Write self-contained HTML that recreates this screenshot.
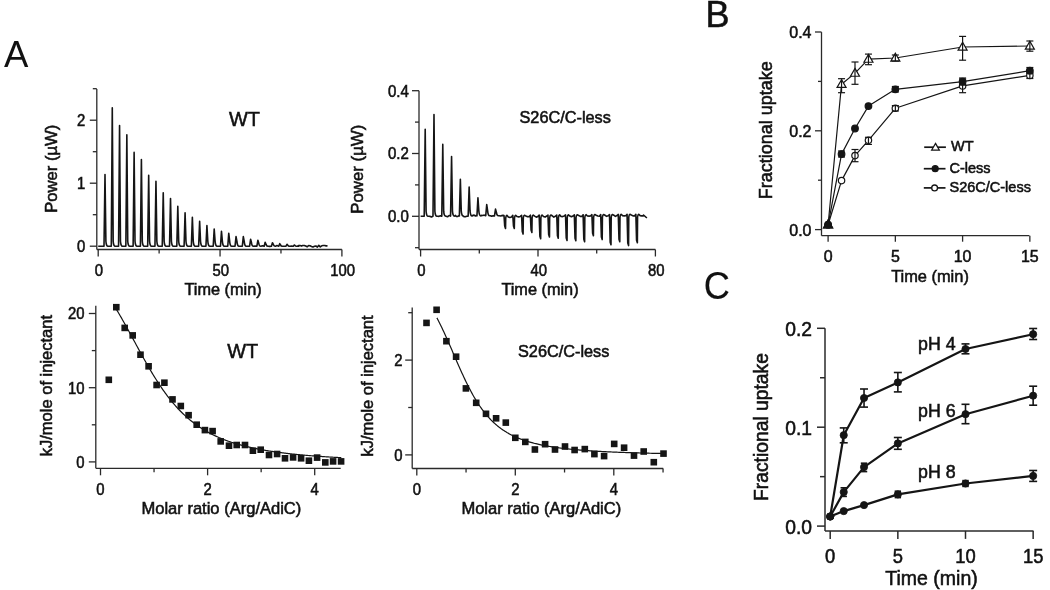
<!DOCTYPE html>
<html><head><meta charset="utf-8"><style>
html,body{margin:0;padding:0;background:#fff;}
svg{display:block;filter:blur(0.35px);}
text{font-family:"Liberation Sans", sans-serif;stroke:#111;stroke-width:0.55px;}
</style></head><body>
<svg width="1050" height="590" viewBox="0 0 1050 590">
<rect width="1050" height="590" fill="#fff"/>
<line x1="96.80" y1="89.00" x2="96.80" y2="249.50" stroke="#2a2a2a" stroke-width="1.3"/>
<line x1="89.80" y1="246.20" x2="96.80" y2="246.20" stroke="#2a2a2a" stroke-width="1.3"/>
<line x1="92.80" y1="214.70" x2="96.80" y2="214.70" stroke="#2a2a2a" stroke-width="1.3"/>
<line x1="89.80" y1="183.20" x2="96.80" y2="183.20" stroke="#2a2a2a" stroke-width="1.3"/>
<line x1="92.80" y1="151.70" x2="96.80" y2="151.70" stroke="#2a2a2a" stroke-width="1.3"/>
<line x1="89.80" y1="120.20" x2="96.80" y2="120.20" stroke="#2a2a2a" stroke-width="1.3"/>
<line x1="92.80" y1="88.70" x2="96.80" y2="88.70" stroke="#2a2a2a" stroke-width="1.3"/>
<line x1="96.80" y1="249.50" x2="341.90" y2="249.50" stroke="#2a2a2a" stroke-width="1.3"/>
<line x1="98.20" y1="249.50" x2="98.20" y2="256.50" stroke="#2a2a2a" stroke-width="1.3"/>
<line x1="159.12" y1="249.50" x2="159.12" y2="253.50" stroke="#2a2a2a" stroke-width="1.3"/>
<line x1="220.05" y1="249.50" x2="220.05" y2="256.50" stroke="#2a2a2a" stroke-width="1.3"/>
<line x1="280.97" y1="249.50" x2="280.97" y2="253.50" stroke="#2a2a2a" stroke-width="1.3"/>
<line x1="341.90" y1="249.50" x2="341.90" y2="256.50" stroke="#2a2a2a" stroke-width="1.3"/>
<text x="0" y="0" font-size="16" text-anchor="end" transform="translate(85.30 252.00) scale(0.93 1)" fill="#111">0</text>
<text x="0" y="0" font-size="16" text-anchor="end" transform="translate(85.30 189.00) scale(0.93 1)" fill="#111">1</text>
<text x="0" y="0" font-size="16" text-anchor="end" transform="translate(85.30 126.00) scale(0.93 1)" fill="#111">2</text>
<text x="0" y="0" font-size="16" text-anchor="middle" transform="translate(99.00 276.40) scale(0.93 1)" fill="#111">0</text>
<text x="0" y="0" font-size="16" text-anchor="middle" transform="translate(220.85 276.40) scale(0.93 1)" fill="#111">50</text>
<text x="0" y="0" font-size="16" text-anchor="middle" transform="translate(342.70 276.40) scale(0.93 1)" fill="#111">100</text>
<text x="223.10" y="294.50" font-size="16.3" text-anchor="middle" fill="#111">Time (min)</text>
<text x="0" y="0" font-size="16.6" text-anchor="middle" transform="translate(56.90 168.80) rotate(-90)" fill="#111">Power (µW)</text>
<text x="0" y="0" font-size="21" text-anchor="start" transform="translate(229.00 125.70) scale(0.95 1)" fill="#111">WT</text>
<path d="M98.2 246.2 L104.00 246.20 L105.00 174.60 L105.90 241.20 Q106.30 246.50 108.10 246.20 L111.28 246.20 L112.28 107.70 L113.18 241.20 Q113.58 246.50 115.38 246.20 L118.56 246.20 L119.56 125.60 L120.46 241.20 Q120.86 246.50 122.66 246.20 L125.84 246.20 L126.84 134.80 L127.74 241.20 Q128.14 246.50 129.94 246.20 L133.12 246.20 L134.12 152.40 L135.02 241.20 Q135.42 246.50 137.22 246.20 L140.40 246.20 L141.40 159.60 L142.30 241.20 Q142.70 246.50 144.50 246.20 L147.68 246.20 L148.68 175.20 L149.58 241.20 Q149.98 246.50 151.78 246.20 L154.96 246.20 L155.96 181.30 L156.86 241.20 Q157.26 246.50 159.06 246.20 L162.24 246.20 L163.24 192.80 L164.14 241.20 Q164.54 246.50 166.34 246.20 L169.52 246.20 L170.52 198.60 L171.42 241.20 Q171.82 246.50 173.62 246.20 L176.80 246.20 L177.80 206.40 L178.70 241.20 Q179.10 246.50 180.90 246.20 L184.08 246.20 L185.08 212.70 L185.98 241.20 Q186.38 246.50 188.18 246.20 L191.36 246.20 L192.36 217.30 L193.26 241.20 Q193.66 246.50 195.46 246.20 L198.64 246.20 L199.64 221.40 L200.54 241.20 Q200.94 246.50 202.74 246.20 L205.92 246.20 L206.92 225.60 L207.82 241.20 Q208.22 246.50 210.02 246.20 L213.20 246.20 L214.20 229.00 L215.10 241.20 Q215.50 246.50 217.30 246.20 L220.48 246.20 L221.48 231.40 L222.38 241.20 Q222.78 246.50 224.58 246.20 L227.76 246.20 L228.76 233.40 L229.66 241.20 Q230.06 246.50 231.86 246.20 L235.04 246.20 L236.04 236.60 L236.94 241.40 Q237.34 246.50 239.14 246.20 L242.32 246.20 L243.32 236.60 L244.22 241.40 Q244.62 246.50 246.42 246.20 L249.60 246.20 L250.60 239.30 L251.50 242.75 Q251.90 246.50 253.70 246.20 L255.10 245.95 L256.88 246.20 L257.88 240.30 L258.78 243.25 Q259.18 246.50 260.98 246.20 L262.38 245.71 L264.16 246.20 L265.16 242.30 L266.06 244.25 Q266.46 246.50 268.26 246.20 L269.66 246.41 L271.44 246.20 L272.44 242.70 L273.34 244.45 Q273.74 246.50 275.54 246.20 L276.94 245.60 L278.72 246.20 L279.72 243.70 L280.62 244.95 Q281.02 246.50 282.82 246.20 L284.22 246.25 L286.00 246.20 L287.00 244.30 L287.90 245.25 Q288.30 246.50 290.10 246.20 L291.50 246.01 L293.28 246.20 L294.28 245.00 L295.18 245.60 Q295.58 246.50 297.38 246.20 L298.78 245.58 L298.46 246.21 L299.91 245.37 L301.36 246.08 L302.81 245.43 L304.26 245.46 L305.74 246.06 L307.19 246.79 L308.64 245.52 L310.09 245.70 L311.54 246.43 L313.02 247.01 L314.47 246.34 L315.92 246.01 L317.37 247.06 L318.82 245.38 L320.30 246.85 L321.75 245.82 L323.20 245.56 L324.65 245.51 L326.10 245.86 L327.5 245.89999999999998" fill="none" stroke="#151515" stroke-width="1.6" stroke-linejoin="round"/>
<line x1="419.00" y1="90.70" x2="419.00" y2="249.50" stroke="#2a2a2a" stroke-width="1.3"/>
<line x1="415.00" y1="247.70" x2="419.00" y2="247.70" stroke="#2a2a2a" stroke-width="1.3"/>
<line x1="412.00" y1="216.30" x2="419.00" y2="216.30" stroke="#2a2a2a" stroke-width="1.3"/>
<line x1="415.00" y1="184.90" x2="419.00" y2="184.90" stroke="#2a2a2a" stroke-width="1.3"/>
<line x1="412.00" y1="153.50" x2="419.00" y2="153.50" stroke="#2a2a2a" stroke-width="1.3"/>
<line x1="415.00" y1="122.10" x2="419.00" y2="122.10" stroke="#2a2a2a" stroke-width="1.3"/>
<line x1="412.00" y1="90.70" x2="419.00" y2="90.70" stroke="#2a2a2a" stroke-width="1.3"/>
<line x1="419.00" y1="249.50" x2="655.40" y2="249.50" stroke="#2a2a2a" stroke-width="1.3"/>
<line x1="420.60" y1="249.50" x2="420.60" y2="256.50" stroke="#2a2a2a" stroke-width="1.3"/>
<line x1="479.30" y1="249.50" x2="479.30" y2="253.50" stroke="#2a2a2a" stroke-width="1.3"/>
<line x1="538.00" y1="249.50" x2="538.00" y2="256.50" stroke="#2a2a2a" stroke-width="1.3"/>
<line x1="596.70" y1="249.50" x2="596.70" y2="253.50" stroke="#2a2a2a" stroke-width="1.3"/>
<line x1="655.40" y1="249.50" x2="655.40" y2="256.50" stroke="#2a2a2a" stroke-width="1.3"/>
<text x="0" y="0" font-size="16" text-anchor="end" transform="translate(408.80 222.10) scale(0.94 1)" fill="#111">0.0</text>
<text x="0" y="0" font-size="16" text-anchor="end" transform="translate(408.80 159.30) scale(0.94 1)" fill="#111">0.2</text>
<text x="0" y="0" font-size="16" text-anchor="end" transform="translate(408.80 96.50) scale(0.94 1)" fill="#111">0.4</text>
<text x="0" y="0" font-size="16" text-anchor="middle" transform="translate(421.40 276.40) scale(0.93 1)" fill="#111">0</text>
<text x="0" y="0" font-size="16" text-anchor="middle" transform="translate(538.80 276.40) scale(0.93 1)" fill="#111">40</text>
<text x="0" y="0" font-size="16" text-anchor="middle" transform="translate(656.20 276.40) scale(0.93 1)" fill="#111">80</text>
<text x="540.00" y="294.80" font-size="16.3" text-anchor="middle" fill="#111">Time (min)</text>
<text x="0" y="0" font-size="16.8" text-anchor="middle" transform="translate(363.30 169.20) rotate(-90)" fill="#111">Power (µW)</text>
<text x="519.50" y="122.80" font-size="16.3" text-anchor="start" fill="#111">S26C/C-less</text>
<path d="M420.6 216.3 L424.20 216.30 L425.20 129.20 L426.10 211.30 Q426.50 216.60 428.30 216.30 L428.90 216.22 L430.20 216.40 L431.50 216.98 L432.80 216.25 L432.99 216.23 L433.99 114.50 L434.89 211.23 Q435.29 216.53 437.09 216.23 L437.69 216.24 L438.99 216.36 L440.29 215.72 L441.59 216.24 L441.78 216.15 L442.78 144.40 L443.68 211.15 Q444.08 216.45 445.88 216.15 L446.48 216.36 L447.78 216.62 L449.08 215.50 L450.38 215.84 L450.57 216.08 L451.57 156.60 L452.47 211.08 Q452.87 216.38 454.67 216.08 L455.27 215.42 L456.57 216.57 L457.87 216.38 L459.17 215.34 L459.36 216.00 L460.36 179.20 L461.26 211.00 Q461.66 216.30 463.46 216.00 L464.06 216.77 L465.36 216.74 L466.66 216.25 L467.96 216.18 L468.15 215.93 L469.15 187.10 L470.05 210.93 Q470.45 216.23 472.25 215.93 L472.85 215.38 L474.15 215.15 L475.45 215.97 L476.75 215.22 L476.94 215.85 L477.94 197.80 L478.84 210.85 Q479.24 216.15 481.04 215.85 L481.64 215.35 L482.94 215.44 L484.24 215.10 L485.54 215.79 L485.73 215.78 L486.73 204.50 L487.63 210.78 Q488.03 216.08 489.83 215.78 L490.43 215.68 L491.73 216.32 L493.03 215.81 L494.33 216.00 L494.52 215.70 L495.52 209.10 L496.42 212.40 Q496.82 216.00 498.62 215.70 L499.22 215.70 L500.52 215.96 L501.82 215.63 L503.12 215.35 L504.01 215.43 L504.71 226.00 L505.51 228.50 L505.71 218.12 Q506.01 215.62 506.91 215.32 L508.31 216.92 L509.91 217.52 L511.51 217.00 L512.80 215.35 L513.50 226.00 L514.30 228.50 L514.50 218.05 Q514.80 215.55 515.70 215.25 L517.10 216.56 L518.70 216.90 L520.30 216.43 L521.59 215.28 L522.29 231.60 L523.09 234.10 L523.29 217.98 Q523.59 215.48 524.49 215.18 L525.89 216.06 L527.49 216.63 L529.09 216.79 L530.38 215.20 L531.08 229.90 L531.88 232.40 L532.08 217.90 Q532.38 215.40 533.28 215.10 L534.68 216.10 L536.28 217.18 L537.88 216.41 L539.17 215.13 L539.87 236.30 L540.67 238.80 L540.87 217.83 Q541.17 215.33 542.07 215.03 L543.47 216.58 L545.07 217.10 L546.67 216.03 L547.96 215.05 L548.66 234.50 L549.46 237.00 L549.66 217.75 Q549.96 215.25 550.86 214.95 L552.26 215.76 L553.86 217.08 L555.46 216.33 L556.75 214.98 L557.45 235.70 L558.25 238.20 L558.45 217.68 Q558.75 215.18 559.65 214.88 L561.05 216.46 L562.65 216.59 L564.25 215.93 L565.54 214.90 L566.24 238.00 L567.04 240.50 L567.24 217.60 Q567.54 215.10 568.44 214.80 L569.84 216.03 L571.44 216.82 L573.04 216.02 L574.33 214.83 L575.03 238.30 L575.83 240.80 L576.03 217.53 Q576.33 215.03 577.23 214.72 L578.63 215.41 L580.23 216.39 L581.83 216.50 L583.12 214.75 L583.82 239.20 L584.62 241.70 L584.82 217.45 Q585.12 214.95 586.02 214.65 L587.42 216.01 L589.02 216.14 L590.62 215.85 L591.91 214.68 L592.61 233.30 L593.41 235.80 L593.61 217.38 Q593.91 214.88 594.81 214.57 L596.21 215.28 L597.81 216.02 L599.41 216.21 L600.70 214.60 L601.40 237.10 L602.20 239.60 L602.40 217.30 Q602.70 214.80 603.60 214.50 L605.00 215.28 L606.60 216.35 L608.20 215.86 L609.49 214.53 L610.19 242.30 L610.99 244.80 L611.19 217.23 Q611.49 214.73 612.39 214.43 L613.79 215.22 L615.39 216.41 L616.99 215.53 L618.28 214.45 L618.98 239.20 L619.78 241.70 L619.98 217.15 Q620.28 214.65 621.18 214.35 L622.58 215.59 L624.18 215.84 L625.78 215.69 L627.07 214.38 L627.77 243.10 L628.57 245.60 L628.77 217.08 Q629.07 214.58 629.97 214.28 L631.37 215.09 L632.97 215.89 L634.57 216.05 L635.86 214.30 L636.56 240.20 L637.36 242.70 L637.56 217.00 Q637.86 214.50 638.76 214.20 L640.16 215.60 L641.76 215.84 L643.36 215.91 L643.5 215.0 L646.9 218.0" fill="none" stroke="#151515" stroke-width="1.6" stroke-linejoin="round"/>
<line x1="95.80" y1="305.80" x2="95.80" y2="468.30" stroke="#2a2a2a" stroke-width="1.3"/>
<line x1="88.80" y1="461.90" x2="95.80" y2="461.90" stroke="#2a2a2a" stroke-width="1.3"/>
<line x1="91.80" y1="424.80" x2="95.80" y2="424.80" stroke="#2a2a2a" stroke-width="1.3"/>
<line x1="88.80" y1="387.70" x2="95.80" y2="387.70" stroke="#2a2a2a" stroke-width="1.3"/>
<line x1="91.80" y1="350.60" x2="95.80" y2="350.60" stroke="#2a2a2a" stroke-width="1.3"/>
<line x1="88.80" y1="313.50" x2="95.80" y2="313.50" stroke="#2a2a2a" stroke-width="1.3"/>
<line x1="95.80" y1="468.30" x2="340.70" y2="468.30" stroke="#2a2a2a" stroke-width="1.3"/>
<line x1="100.50" y1="468.30" x2="100.50" y2="475.30" stroke="#2a2a2a" stroke-width="1.3"/>
<line x1="154.05" y1="468.30" x2="154.05" y2="472.30" stroke="#2a2a2a" stroke-width="1.3"/>
<line x1="207.60" y1="468.30" x2="207.60" y2="475.30" stroke="#2a2a2a" stroke-width="1.3"/>
<line x1="261.15" y1="468.30" x2="261.15" y2="472.30" stroke="#2a2a2a" stroke-width="1.3"/>
<line x1="314.70" y1="468.30" x2="314.70" y2="475.30" stroke="#2a2a2a" stroke-width="1.3"/>
<text x="0" y="0" font-size="16" text-anchor="end" transform="translate(84.50 467.70) scale(0.93 1)" fill="#111">0</text>
<text x="0" y="0" font-size="16" text-anchor="end" transform="translate(84.50 393.50) scale(0.93 1)" fill="#111">10</text>
<text x="0" y="0" font-size="16" text-anchor="end" transform="translate(84.50 319.30) scale(0.93 1)" fill="#111">20</text>
<text x="0" y="0" font-size="16" text-anchor="middle" transform="translate(100.50 495.20) scale(0.93 1)" fill="#111">0</text>
<text x="0" y="0" font-size="16" text-anchor="middle" transform="translate(207.60 495.20) scale(0.93 1)" fill="#111">2</text>
<text x="0" y="0" font-size="16" text-anchor="middle" transform="translate(314.70 495.20) scale(0.93 1)" fill="#111">4</text>
<text x="221.40" y="513.60" font-size="16.55" text-anchor="middle" fill="#111">Molar ratio (Arg/AdiC)</text>
<text x="0" y="0" font-size="16.5" text-anchor="middle" transform="translate(52.40 385.60) rotate(-90)" fill="#111">kJ/mole of injectant</text>
<text x="0" y="0" font-size="21" text-anchor="start" transform="translate(227.30 357.70) scale(0.95 1)" fill="#111">WT</text>
<path d="M116.30 309.15 L117.30 310.82 L118.30 312.51 L119.30 314.21 L120.30 315.94 L121.30 317.67 L122.30 319.43 L123.30 321.19 L124.30 322.97 L125.30 324.76 L126.30 326.57 L127.30 328.38 L128.30 330.20 L129.30 332.03 L130.30 333.86 L131.30 335.70 L132.30 337.54 L133.30 339.39 L134.30 341.24 L135.30 343.08 L136.30 344.93 L137.30 346.77 L138.30 348.61 L139.30 350.45 L140.30 352.27 L141.30 354.09 L142.30 355.91 L143.30 357.71 L144.30 359.50 L145.30 361.28 L146.30 363.05 L147.30 364.80 L148.30 366.54 L149.30 368.26 L150.30 369.96 L151.30 371.65 L152.30 373.32 L153.30 374.97 L154.30 376.60 L155.30 378.21 L156.30 379.80 L157.30 381.36 L158.30 382.91 L159.30 384.43 L160.30 385.93 L161.30 387.41 L162.30 388.87 L163.30 390.30 L164.30 391.70 L165.30 393.09 L166.30 394.45 L167.30 395.78 L168.30 397.10 L169.30 398.38 L170.30 399.65 L171.30 400.89 L172.30 402.10 L173.30 403.30 L174.30 404.47 L175.30 405.61 L176.30 406.74 L177.30 407.84 L178.30 408.91 L179.30 409.97 L180.30 411.00 L181.30 412.01 L182.30 413.00 L183.30 413.97 L184.30 414.92 L185.30 415.85 L186.30 416.76 L187.30 417.65 L188.30 418.52 L189.30 419.36 L190.30 420.20 L191.30 421.01 L192.30 421.80 L193.30 422.58 L194.30 423.34 L195.30 424.08 L196.30 424.81 L197.30 425.52 L198.30 426.21 L199.30 426.89 L200.30 427.55 L201.30 428.20 L202.30 428.84 L203.30 429.46 L204.30 430.06 L205.30 430.65 L206.30 431.23 L207.30 431.80 L208.30 432.35 L209.30 432.89 L210.30 433.42 L211.30 433.94 L212.30 434.44 L213.30 434.94 L214.30 435.42 L215.30 435.90 L216.30 436.36 L217.30 436.81 L218.30 437.25 L219.30 437.69 L220.30 438.11 L221.30 438.53 L222.30 438.93 L223.30 439.33 L224.30 439.72 L225.30 440.10 L226.30 440.47 L227.30 440.83 L228.30 441.19 L229.30 441.54 L230.30 441.88 L231.30 442.21 L232.30 442.54 L233.30 442.86 L234.30 443.17 L235.30 443.48 L236.30 443.78 L237.30 444.08 L238.30 444.36 L239.30 444.65 L240.30 444.92 L241.30 445.20 L242.30 445.46 L243.30 445.72 L244.30 445.98 L245.30 446.23 L246.30 446.48 L247.30 446.72 L248.30 446.95 L249.30 447.18 L250.30 447.41 L251.30 447.63 L252.30 447.85 L253.30 448.07 L254.30 448.28 L255.30 448.48 L256.30 448.68 L257.30 448.88 L258.30 449.08 L259.30 449.27 L260.30 449.46 L261.30 449.64 L262.30 449.82 L263.30 450.00 L264.30 450.17 L265.30 450.34 L266.30 450.51 L267.30 450.68 L268.30 450.84 L269.30 451.00 L270.30 451.15 L271.30 451.31 L272.30 451.46 L273.30 451.60 L274.30 451.75 L275.30 451.89 L276.30 452.03 L277.30 452.17 L278.30 452.31 L279.30 452.44 L280.30 452.57 L281.30 452.70 L282.30 452.83 L283.30 452.95 L284.30 453.07 L285.30 453.19 L286.30 453.31 L287.30 453.43 L288.30 453.54 L289.30 453.66 L290.30 453.77 L291.30 453.88 L292.30 453.98 L293.30 454.09 L294.30 454.19 L295.30 454.30 L296.30 454.40 L297.30 454.50 L298.30 454.59 L299.30 454.69 L300.30 454.78 L301.30 454.88 L302.30 454.97 L303.30 455.06 L304.30 455.15 L305.30 455.24 L306.30 455.32 L307.30 455.41 L308.30 455.49 L309.30 455.57 L310.30 455.65 L311.30 455.73 L312.30 455.81 L313.30 455.89 L314.30 455.97 L315.30 456.04 L316.30 456.12 L317.30 456.19 L318.30 456.26 L319.30 456.33 L320.30 456.40 L321.30 456.47 L322.30 456.54 L323.30 456.61 L324.30 456.67 L325.30 456.74 L326.30 456.80 L327.30 456.87 L328.30 456.93 L329.30 456.99 L330.30 457.05 L331.30 457.11 L332.30 457.17 L333.30 457.23 L334.30 457.29 L335.30 457.34 L336.30 457.40 L337.30 457.46 L338.30 457.51 L339.30 457.56 L340.30 457.62 L341.30 457.67" fill="none" stroke="#151515" stroke-width="1.2" stroke-linejoin="round"/>
<rect x="105.50" y="376.50" width="6.6" height="6.6" fill="#151515"/>
<rect x="113.00" y="303.90" width="6.6" height="6.6" fill="#151515"/>
<rect x="121.40" y="324.60" width="6.6" height="6.6" fill="#151515"/>
<rect x="129.40" y="332.10" width="6.6" height="6.6" fill="#151515"/>
<rect x="137.20" y="351.40" width="6.6" height="6.6" fill="#151515"/>
<rect x="145.30" y="363.00" width="6.6" height="6.6" fill="#151515"/>
<rect x="153.30" y="381.70" width="6.6" height="6.6" fill="#151515"/>
<rect x="161.10" y="379.40" width="6.6" height="6.6" fill="#151515"/>
<rect x="169.20" y="396.10" width="6.6" height="6.6" fill="#151515"/>
<rect x="177.50" y="402.70" width="6.6" height="6.6" fill="#151515"/>
<rect x="185.30" y="411.90" width="6.6" height="6.6" fill="#151515"/>
<rect x="193.40" y="421.40" width="6.6" height="6.6" fill="#151515"/>
<rect x="201.60" y="426.80" width="6.6" height="6.6" fill="#151515"/>
<rect x="209.30" y="427.80" width="6.6" height="6.6" fill="#151515"/>
<rect x="217.40" y="438.10" width="6.6" height="6.6" fill="#151515"/>
<rect x="225.70" y="442.40" width="6.6" height="6.6" fill="#151515"/>
<rect x="233.40" y="441.70" width="6.6" height="6.6" fill="#151515"/>
<rect x="241.70" y="441.70" width="6.6" height="6.6" fill="#151515"/>
<rect x="249.60" y="447.40" width="6.6" height="6.6" fill="#151515"/>
<rect x="257.40" y="446.40" width="6.6" height="6.6" fill="#151515"/>
<rect x="265.70" y="451.70" width="6.6" height="6.6" fill="#151515"/>
<rect x="273.80" y="450.70" width="6.6" height="6.6" fill="#151515"/>
<rect x="281.70" y="455.00" width="6.6" height="6.6" fill="#151515"/>
<rect x="289.80" y="454.10" width="6.6" height="6.6" fill="#151515"/>
<rect x="297.80" y="455.00" width="6.6" height="6.6" fill="#151515"/>
<rect x="305.60" y="457.40" width="6.6" height="6.6" fill="#151515"/>
<rect x="313.80" y="454.30" width="6.6" height="6.6" fill="#151515"/>
<rect x="322.00" y="459.10" width="6.6" height="6.6" fill="#151515"/>
<rect x="329.80" y="458.10" width="6.6" height="6.6" fill="#151515"/>
<rect x="337.80" y="458.10" width="6.6" height="6.6" fill="#151515"/>
<line x1="412.20" y1="307.60" x2="412.20" y2="468.50" stroke="#2a2a2a" stroke-width="1.3"/>
<line x1="405.20" y1="454.90" x2="412.20" y2="454.90" stroke="#2a2a2a" stroke-width="1.3"/>
<line x1="408.20" y1="407.50" x2="412.20" y2="407.50" stroke="#2a2a2a" stroke-width="1.3"/>
<line x1="405.20" y1="360.10" x2="412.20" y2="360.10" stroke="#2a2a2a" stroke-width="1.3"/>
<line x1="408.20" y1="312.70" x2="412.20" y2="312.70" stroke="#2a2a2a" stroke-width="1.3"/>
<line x1="412.20" y1="468.50" x2="663.20" y2="468.50" stroke="#2a2a2a" stroke-width="1.3"/>
<line x1="416.80" y1="468.50" x2="416.80" y2="475.50" stroke="#2a2a2a" stroke-width="1.3"/>
<line x1="466.05" y1="468.50" x2="466.05" y2="472.50" stroke="#2a2a2a" stroke-width="1.3"/>
<line x1="515.30" y1="468.50" x2="515.30" y2="475.50" stroke="#2a2a2a" stroke-width="1.3"/>
<line x1="564.55" y1="468.50" x2="564.55" y2="472.50" stroke="#2a2a2a" stroke-width="1.3"/>
<line x1="613.80" y1="468.50" x2="613.80" y2="475.50" stroke="#2a2a2a" stroke-width="1.3"/>
<line x1="663.05" y1="468.50" x2="663.05" y2="472.50" stroke="#2a2a2a" stroke-width="1.3"/>
<text x="0" y="0" font-size="16" text-anchor="end" transform="translate(402.50 460.70) scale(0.93 1)" fill="#111">0</text>
<text x="0" y="0" font-size="16" text-anchor="end" transform="translate(402.50 365.90) scale(0.93 1)" fill="#111">2</text>
<text x="0" y="0" font-size="16" text-anchor="middle" transform="translate(416.80 495.20) scale(0.93 1)" fill="#111">0</text>
<text x="0" y="0" font-size="16" text-anchor="middle" transform="translate(515.30 495.20) scale(0.93 1)" fill="#111">2</text>
<text x="0" y="0" font-size="16" text-anchor="middle" transform="translate(613.80 495.20) scale(0.93 1)" fill="#111">4</text>
<text x="541.30" y="513.60" font-size="16.55" text-anchor="middle" fill="#111">Molar ratio (Arg/AdiC)</text>
<text x="0" y="0" font-size="16.5" text-anchor="middle" transform="translate(373.00 386.00) rotate(-90)" fill="#111">kJ/mole of injectant</text>
<text x="518.00" y="357.00" font-size="16.3" text-anchor="start" fill="#111">S26C/C-less</text>
<path d="M436.90 317.89 L437.90 319.80 L438.90 321.76 L439.90 323.75 L440.90 325.79 L441.90 327.86 L442.90 329.97 L443.90 332.11 L444.90 334.28 L445.90 336.48 L446.90 338.71 L447.90 340.96 L448.90 343.23 L449.90 345.51 L450.90 347.81 L451.90 350.11 L452.90 352.43 L453.90 354.74 L454.90 357.05 L455.90 359.36 L456.90 361.66 L457.90 363.95 L458.90 366.22 L459.90 368.48 L460.90 370.71 L461.90 372.92 L462.90 375.10 L463.90 377.25 L464.90 379.37 L465.90 381.45 L466.90 383.50 L467.90 385.51 L468.90 387.48 L469.90 389.40 L470.90 391.29 L471.90 393.13 L472.90 394.93 L473.90 396.68 L474.90 398.38 L475.90 400.05 L476.90 401.66 L477.90 403.24 L478.90 404.76 L479.90 406.25 L480.90 407.69 L481.90 409.08 L482.90 410.43 L483.90 411.74 L484.90 413.01 L485.90 414.24 L486.90 415.43 L487.90 416.58 L488.90 417.70 L489.90 418.78 L490.90 419.82 L491.90 420.83 L492.90 421.80 L493.90 422.74 L494.90 423.65 L495.90 424.53 L496.90 425.38 L497.90 426.20 L498.90 427.00 L499.90 427.76 L500.90 428.51 L501.90 429.22 L502.90 429.92 L503.90 430.59 L504.90 431.23 L505.90 431.86 L506.90 432.47 L507.90 433.05 L508.90 433.62 L509.90 434.16 L510.90 434.69 L511.90 435.21 L512.90 435.70 L513.90 436.18 L514.90 436.65 L515.90 437.10 L516.90 437.54 L517.90 437.96 L518.90 438.37 L519.90 438.76 L520.90 439.15 L521.90 439.52 L522.90 439.88 L523.90 440.23 L524.90 440.57 L525.90 440.90 L526.90 441.22 L527.90 441.53 L528.90 441.83 L529.90 442.12 L530.90 442.40 L531.90 442.68 L532.90 442.95 L533.90 443.21 L534.90 443.46 L535.90 443.70 L536.90 443.94 L537.90 444.17 L538.90 444.40 L539.90 444.62 L540.90 444.83 L541.90 445.04 L542.90 445.24 L543.90 445.44 L544.90 445.63 L545.90 445.82 L546.90 446.00 L547.90 446.17 L548.90 446.35 L549.90 446.51 L550.90 446.68 L551.90 446.84 L552.90 446.99 L553.90 447.14 L554.90 447.29 L555.90 447.43 L556.90 447.58 L557.90 447.71 L558.90 447.85 L559.90 447.98 L560.90 448.10 L561.90 448.23 L562.90 448.35 L563.90 448.47 L564.90 448.59 L565.90 448.70 L566.90 448.81 L567.90 448.92 L568.90 449.02 L569.90 449.13 L570.90 449.23 L571.90 449.33 L572.90 449.42 L573.90 449.52 L574.90 449.61 L575.90 449.70 L576.90 449.79 L577.90 449.88 L578.90 449.96 L579.90 450.04 L580.90 450.13 L581.90 450.20 L582.90 450.28 L583.90 450.36 L584.90 450.43 L585.90 450.51 L586.90 450.58 L587.90 450.65 L588.90 450.72 L589.90 450.79 L590.90 450.85 L591.90 450.92 L592.90 450.98 L593.90 451.04 L594.90 451.10 L595.90 451.16 L596.90 451.22 L597.90 451.28 L598.90 451.34 L599.90 451.39 L600.90 451.45 L601.90 451.50 L602.90 451.55 L603.90 451.61 L604.90 451.66 L605.90 451.71 L606.90 451.76 L607.90 451.80 L608.90 451.85 L609.90 451.90 L610.90 451.94 L611.90 451.99 L612.90 452.03 L613.90 452.07 L614.90 452.12 L615.90 452.16 L616.90 452.20 L617.90 452.24 L618.90 452.28 L619.90 452.32 L620.90 452.36 L621.90 452.39 L622.90 452.43 L623.90 452.47 L624.90 452.50 L625.90 452.54 L626.90 452.57 L627.90 452.61 L628.90 452.64 L629.90 452.67 L630.90 452.71 L631.90 452.74 L632.90 452.77 L633.90 452.80 L634.90 452.83 L635.90 452.86 L636.90 452.89 L637.90 452.92 L638.90 452.95 L639.90 452.98 L640.90 453.00 L641.90 453.03 L642.90 453.06 L643.90 453.09 L644.90 453.11 L645.90 453.14 L646.90 453.16 L647.90 453.19 L648.90 453.21 L649.90 453.24 L650.90 453.26 L651.90 453.28 L652.90 453.31 L653.90 453.33 L654.90 453.35 L655.90 453.38 L656.90 453.40 L657.90 453.42 L658.90 453.44 L659.90 453.46 L660.90 453.48 L661.90 453.50 L662.90 453.52" fill="none" stroke="#151515" stroke-width="1.2" stroke-linejoin="round"/>
<rect x="423.20" y="319.60" width="6.6" height="6.6" fill="#151515"/>
<rect x="433.30" y="306.50" width="6.6" height="6.6" fill="#151515"/>
<rect x="443.10" y="337.90" width="6.6" height="6.6" fill="#151515"/>
<rect x="452.80" y="353.40" width="6.6" height="6.6" fill="#151515"/>
<rect x="462.60" y="385.10" width="6.6" height="6.6" fill="#151515"/>
<rect x="472.90" y="399.50" width="6.6" height="6.6" fill="#151515"/>
<rect x="482.70" y="410.50" width="6.6" height="6.6" fill="#151515"/>
<rect x="492.80" y="415.00" width="6.6" height="6.6" fill="#151515"/>
<rect x="502.50" y="419.30" width="6.6" height="6.6" fill="#151515"/>
<rect x="512.00" y="434.50" width="6.6" height="6.6" fill="#151515"/>
<rect x="522.00" y="438.60" width="6.6" height="6.6" fill="#151515"/>
<rect x="531.60" y="446.20" width="6.6" height="6.6" fill="#151515"/>
<rect x="541.80" y="440.90" width="6.6" height="6.6" fill="#151515"/>
<rect x="551.70" y="446.20" width="6.6" height="6.6" fill="#151515"/>
<rect x="561.70" y="443.20" width="6.6" height="6.6" fill="#151515"/>
<rect x="571.30" y="446.70" width="6.6" height="6.6" fill="#151515"/>
<rect x="581.50" y="445.80" width="6.6" height="6.6" fill="#151515"/>
<rect x="591.10" y="450.80" width="6.6" height="6.6" fill="#151515"/>
<rect x="600.80" y="452.80" width="6.6" height="6.6" fill="#151515"/>
<rect x="610.90" y="440.60" width="6.6" height="6.6" fill="#151515"/>
<rect x="620.80" y="444.40" width="6.6" height="6.6" fill="#151515"/>
<rect x="630.70" y="452.30" width="6.6" height="6.6" fill="#151515"/>
<rect x="640.40" y="448.20" width="6.6" height="6.6" fill="#151515"/>
<rect x="650.50" y="458.90" width="6.6" height="6.6" fill="#151515"/>
<rect x="660.20" y="450.30" width="6.6" height="6.6" fill="#151515"/>
<line x1="821.50" y1="32.10" x2="821.50" y2="235.70" stroke="#2a2a2a" stroke-width="1.3"/>
<line x1="815.00" y1="229.60" x2="821.50" y2="229.60" stroke="#2a2a2a" stroke-width="1.3"/>
<line x1="818.00" y1="180.20" x2="821.50" y2="180.20" stroke="#2a2a2a" stroke-width="1.3"/>
<line x1="815.00" y1="130.80" x2="821.50" y2="130.80" stroke="#2a2a2a" stroke-width="1.3"/>
<line x1="818.00" y1="81.40" x2="821.50" y2="81.40" stroke="#2a2a2a" stroke-width="1.3"/>
<line x1="815.00" y1="32.00" x2="821.50" y2="32.00" stroke="#2a2a2a" stroke-width="1.3"/>
<line x1="821.50" y1="235.70" x2="1029.40" y2="235.70" stroke="#2a2a2a" stroke-width="1.3"/>
<line x1="828.10" y1="235.70" x2="828.10" y2="241.70" stroke="#2a2a2a" stroke-width="1.3"/>
<line x1="895.35" y1="235.70" x2="895.35" y2="241.70" stroke="#2a2a2a" stroke-width="1.3"/>
<line x1="962.60" y1="235.70" x2="962.60" y2="241.70" stroke="#2a2a2a" stroke-width="1.3"/>
<line x1="1029.85" y1="235.70" x2="1029.85" y2="241.70" stroke="#2a2a2a" stroke-width="1.3"/>
<text x="0" y="0" font-size="17" text-anchor="end" transform="translate(811.50 235.80) scale(0.94 1)" fill="#111">0.0</text>
<text x="0" y="0" font-size="17" text-anchor="end" transform="translate(811.50 137.00) scale(0.94 1)" fill="#111">0.2</text>
<text x="0" y="0" font-size="17" text-anchor="end" transform="translate(811.50 38.20) scale(0.94 1)" fill="#111">0.4</text>
<text x="0" y="0" font-size="17" text-anchor="middle" transform="translate(828.10 262.20) scale(0.94 1)" fill="#111">0</text>
<text x="0" y="0" font-size="17" text-anchor="middle" transform="translate(895.35 262.20) scale(0.94 1)" fill="#111">5</text>
<text x="0" y="0" font-size="17" text-anchor="middle" transform="translate(962.60 262.20) scale(0.94 1)" fill="#111">10</text>
<text x="0" y="0" font-size="17" text-anchor="middle" transform="translate(1029.85 262.20) scale(0.94 1)" fill="#111">15</text>
<text x="930.00" y="281.50" font-size="16.4" text-anchor="middle" fill="#111">Time (min)</text>
<text x="0" y="0" font-size="18" text-anchor="middle" transform="translate(772.00 130.30) rotate(-90)" fill="#111">Fractional uptake</text>
<path d="M828.10 224.70 L841.55 84.30 L855.00 73.10 L868.45 59.10 L895.35 58.00 L962.60 47.00 L1029.85 46.00" fill="none" stroke="#151515" stroke-width="1.2" stroke-linejoin="round"/>
<path d="M828.10 224.70 L841.55 154.10 L855.00 128.50 L868.45 106.10 L895.35 89.30 L962.60 81.70 L1029.85 70.70" fill="none" stroke="#151515" stroke-width="1.2" stroke-linejoin="round"/>
<path d="M828.10 224.70 L841.55 180.60 L855.00 155.60 L868.45 140.30 L895.35 108.30 L962.60 85.90 L1029.85 75.40" fill="none" stroke="#151515" stroke-width="1.2" stroke-linejoin="round"/>
<circle cx="828.10" cy="224.70" r="3.2" fill="#fff" stroke="#151515" stroke-width="1.2"/>
<circle cx="841.55" cy="180.60" r="3.2" fill="#fff" stroke="#151515" stroke-width="1.2"/>
<circle cx="855.00" cy="155.60" r="3.2" fill="#fff" stroke="#151515" stroke-width="1.2"/>
<circle cx="868.45" cy="140.30" r="3.2" fill="#fff" stroke="#151515" stroke-width="1.2"/>
<circle cx="895.35" cy="108.30" r="3.2" fill="#fff" stroke="#151515" stroke-width="1.2"/>
<circle cx="962.60" cy="85.90" r="3.2" fill="#fff" stroke="#151515" stroke-width="1.2"/>
<circle cx="1029.85" cy="75.40" r="3.2" fill="#fff" stroke="#151515" stroke-width="1.2"/>
<circle cx="828.10" cy="224.70" r="3.3" fill="#151515" stroke="#151515" stroke-width="1.2"/>
<circle cx="841.55" cy="154.10" r="3.3" fill="#151515" stroke="#151515" stroke-width="1.2"/>
<circle cx="855.00" cy="128.50" r="3.3" fill="#151515" stroke="#151515" stroke-width="1.2"/>
<circle cx="868.45" cy="106.10" r="3.3" fill="#151515" stroke="#151515" stroke-width="1.2"/>
<circle cx="895.35" cy="89.30" r="3.3" fill="#151515" stroke="#151515" stroke-width="1.2"/>
<circle cx="962.60" cy="81.70" r="3.3" fill="#151515" stroke="#151515" stroke-width="1.2"/>
<circle cx="1029.85" cy="70.70" r="3.3" fill="#151515" stroke="#151515" stroke-width="1.2"/>
<path d="M828.10 220.00 L832.60 227.83 L823.60 227.83 Z" fill="#fff" stroke="#151515" stroke-width="1.2" stroke-linejoin="miter"/>
<path d="M841.55 79.60 L846.05 87.43 L837.05 87.43 Z" fill="#fff" stroke="#151515" stroke-width="1.2" stroke-linejoin="miter"/>
<path d="M855.00 68.40 L859.50 76.23 L850.50 76.23 Z" fill="#fff" stroke="#151515" stroke-width="1.2" stroke-linejoin="miter"/>
<path d="M868.45 54.40 L872.95 62.23 L863.95 62.23 Z" fill="#fff" stroke="#151515" stroke-width="1.2" stroke-linejoin="miter"/>
<path d="M895.35 53.30 L899.85 61.13 L890.85 61.13 Z" fill="#fff" stroke="#151515" stroke-width="1.2" stroke-linejoin="miter"/>
<path d="M962.60 42.30 L967.10 50.13 L958.10 50.13 Z" fill="#fff" stroke="#151515" stroke-width="1.2" stroke-linejoin="miter"/>
<path d="M1029.85 41.30 L1034.35 49.13 L1025.35 49.13 Z" fill="#fff" stroke="#151515" stroke-width="1.2" stroke-linejoin="miter"/>
<path d="M828.10 220.00 L832.60 227.83 L823.60 227.83 Z" fill="#151515" stroke="#151515" stroke-width="1.2" stroke-linejoin="miter"/>
<line x1="841.55" y1="78.70" x2="841.55" y2="92.70" stroke="#151515" stroke-width="1.2"/>
<line x1="838.05" y1="78.70" x2="845.05" y2="78.70" stroke="#151515" stroke-width="1.2"/>
<line x1="838.05" y1="92.70" x2="845.05" y2="92.70" stroke="#151515" stroke-width="1.2"/>
<line x1="855.00" y1="62.00" x2="855.00" y2="84.30" stroke="#151515" stroke-width="1.2"/>
<line x1="851.50" y1="62.00" x2="858.50" y2="62.00" stroke="#151515" stroke-width="1.2"/>
<line x1="851.50" y1="84.30" x2="858.50" y2="84.30" stroke="#151515" stroke-width="1.2"/>
<line x1="868.45" y1="54.10" x2="868.45" y2="64.70" stroke="#151515" stroke-width="1.2"/>
<line x1="864.95" y1="54.10" x2="871.95" y2="54.10" stroke="#151515" stroke-width="1.2"/>
<line x1="864.95" y1="64.70" x2="871.95" y2="64.70" stroke="#151515" stroke-width="1.2"/>
<line x1="895.35" y1="55.00" x2="895.35" y2="61.00" stroke="#151515" stroke-width="1.2"/>
<line x1="891.85" y1="55.00" x2="898.85" y2="55.00" stroke="#151515" stroke-width="1.2"/>
<line x1="891.85" y1="61.00" x2="898.85" y2="61.00" stroke="#151515" stroke-width="1.2"/>
<line x1="962.60" y1="36.40" x2="962.60" y2="60.20" stroke="#151515" stroke-width="1.2"/>
<line x1="959.10" y1="36.40" x2="966.10" y2="36.40" stroke="#151515" stroke-width="1.2"/>
<line x1="959.10" y1="60.20" x2="966.10" y2="60.20" stroke="#151515" stroke-width="1.2"/>
<line x1="1029.85" y1="41.00" x2="1029.85" y2="51.20" stroke="#151515" stroke-width="1.2"/>
<line x1="1026.35" y1="41.00" x2="1033.35" y2="41.00" stroke="#151515" stroke-width="1.2"/>
<line x1="1026.35" y1="51.20" x2="1033.35" y2="51.20" stroke="#151515" stroke-width="1.2"/>
<line x1="855.00" y1="149.50" x2="855.00" y2="161.70" stroke="#151515" stroke-width="1.2"/>
<line x1="851.50" y1="149.50" x2="858.50" y2="149.50" stroke="#151515" stroke-width="1.2"/>
<line x1="851.50" y1="161.70" x2="858.50" y2="161.70" stroke="#151515" stroke-width="1.2"/>
<line x1="868.45" y1="137.30" x2="868.45" y2="144.40" stroke="#151515" stroke-width="1.2"/>
<line x1="864.95" y1="137.30" x2="871.95" y2="137.30" stroke="#151515" stroke-width="1.2"/>
<line x1="864.95" y1="144.40" x2="871.95" y2="144.40" stroke="#151515" stroke-width="1.2"/>
<line x1="895.35" y1="105.60" x2="895.35" y2="111.00" stroke="#151515" stroke-width="1.2"/>
<line x1="891.85" y1="105.60" x2="898.85" y2="105.60" stroke="#151515" stroke-width="1.2"/>
<line x1="891.85" y1="111.00" x2="898.85" y2="111.00" stroke="#151515" stroke-width="1.2"/>
<line x1="962.60" y1="79.00" x2="962.60" y2="92.70" stroke="#151515" stroke-width="1.2"/>
<line x1="959.10" y1="79.00" x2="966.10" y2="79.00" stroke="#151515" stroke-width="1.2"/>
<line x1="959.10" y1="92.70" x2="966.10" y2="92.70" stroke="#151515" stroke-width="1.2"/>
<line x1="1029.85" y1="72.30" x2="1029.85" y2="78.50" stroke="#151515" stroke-width="1.2"/>
<line x1="1026.35" y1="72.30" x2="1033.35" y2="72.30" stroke="#151515" stroke-width="1.2"/>
<line x1="1026.35" y1="78.50" x2="1033.35" y2="78.50" stroke="#151515" stroke-width="1.2"/>
<line x1="841.55" y1="151.00" x2="841.55" y2="157.00" stroke="#151515" stroke-width="1.2"/>
<line x1="838.05" y1="151.00" x2="845.05" y2="151.00" stroke="#151515" stroke-width="1.2"/>
<line x1="838.05" y1="157.00" x2="845.05" y2="157.00" stroke="#151515" stroke-width="1.2"/>
<line x1="895.35" y1="86.50" x2="895.35" y2="92.00" stroke="#151515" stroke-width="1.2"/>
<line x1="891.85" y1="86.50" x2="898.85" y2="86.50" stroke="#151515" stroke-width="1.2"/>
<line x1="891.85" y1="92.00" x2="898.85" y2="92.00" stroke="#151515" stroke-width="1.2"/>
<line x1="962.60" y1="78.00" x2="962.60" y2="85.00" stroke="#151515" stroke-width="1.2"/>
<line x1="959.10" y1="78.00" x2="966.10" y2="78.00" stroke="#151515" stroke-width="1.2"/>
<line x1="959.10" y1="85.00" x2="966.10" y2="85.00" stroke="#151515" stroke-width="1.2"/>
<line x1="1029.85" y1="67.50" x2="1029.85" y2="73.50" stroke="#151515" stroke-width="1.2"/>
<line x1="1026.35" y1="67.50" x2="1033.35" y2="67.50" stroke="#151515" stroke-width="1.2"/>
<line x1="1026.35" y1="73.50" x2="1033.35" y2="73.50" stroke="#151515" stroke-width="1.2"/>
<path d="M924.20 147.20 L945.90 147.20" fill="none" stroke="#151515" stroke-width="1.7" stroke-linejoin="round"/>
<path d="M935.50 143.43 L939.30 150.04 L931.70 150.04 Z" fill="#fff" stroke="#151515" stroke-width="1.3" stroke-linejoin="miter"/>
<path d="M923.80 168.70 L945.50 168.70" fill="none" stroke="#151515" stroke-width="1.7" stroke-linejoin="round"/>
<circle cx="935.20" cy="168.70" r="3.0" fill="#151515" stroke="#151515" stroke-width="1.2"/>
<path d="M923.80 187.90 L945.50 187.90" fill="none" stroke="#151515" stroke-width="1.7" stroke-linejoin="round"/>
<circle cx="934.60" cy="187.90" r="2.9" fill="#fff" stroke="#151515" stroke-width="1.3"/>
<text x="951.00" y="151.00" font-size="14.5" text-anchor="start" fill="#111">WT</text>
<text x="949.50" y="173.00" font-size="14.5" text-anchor="start" fill="#111">C-less</text>
<text x="949.50" y="192.20" font-size="14.5" text-anchor="start" fill="#111">S26C/C-less</text>
<line x1="825.00" y1="328.30" x2="825.00" y2="530.90" stroke="#2a2a2a" stroke-width="1.5"/>
<line x1="817.00" y1="526.10" x2="825.00" y2="526.10" stroke="#2a2a2a" stroke-width="1.5"/>
<line x1="820.00" y1="476.65" x2="825.00" y2="476.65" stroke="#2a2a2a" stroke-width="1.5"/>
<line x1="817.00" y1="427.20" x2="825.00" y2="427.20" stroke="#2a2a2a" stroke-width="1.5"/>
<line x1="820.00" y1="377.75" x2="825.00" y2="377.75" stroke="#2a2a2a" stroke-width="1.5"/>
<line x1="817.00" y1="328.30" x2="825.00" y2="328.30" stroke="#2a2a2a" stroke-width="1.5"/>
<line x1="825.00" y1="530.90" x2="1033.50" y2="530.90" stroke="#2a2a2a" stroke-width="1.5"/>
<line x1="830.20" y1="530.90" x2="830.20" y2="538.90" stroke="#2a2a2a" stroke-width="1.5"/>
<line x1="897.85" y1="530.90" x2="897.85" y2="538.90" stroke="#2a2a2a" stroke-width="1.5"/>
<line x1="965.50" y1="530.90" x2="965.50" y2="538.90" stroke="#2a2a2a" stroke-width="1.5"/>
<line x1="1033.15" y1="530.90" x2="1033.15" y2="538.90" stroke="#2a2a2a" stroke-width="1.5"/>
<text x="0" y="0" font-size="21" text-anchor="end" transform="translate(812.00 533.50) scale(0.92 1)" fill="#111">0.0</text>
<text x="0" y="0" font-size="21" text-anchor="end" transform="translate(812.00 434.60) scale(0.92 1)" fill="#111">0.1</text>
<text x="0" y="0" font-size="21" text-anchor="end" transform="translate(812.00 335.70) scale(0.92 1)" fill="#111">0.2</text>
<text x="0" y="0" font-size="20" text-anchor="middle" transform="translate(830.20 563.00) scale(0.92 1)" fill="#111">0</text>
<text x="0" y="0" font-size="20" text-anchor="middle" transform="translate(897.85 563.00) scale(0.92 1)" fill="#111">5</text>
<text x="0" y="0" font-size="20" text-anchor="middle" transform="translate(965.50 563.00) scale(0.92 1)" fill="#111">10</text>
<text x="0" y="0" font-size="20" text-anchor="middle" transform="translate(1033.15 563.00) scale(0.92 1)" fill="#111">15</text>
<text x="931.50" y="585.00" font-size="19.5" text-anchor="middle" fill="#111">Time (min)</text>
<text x="0" y="0" font-size="19.3" text-anchor="middle" transform="translate(768.00 427.00) rotate(-90)" fill="#111">Fractional uptake</text>
<path d="M830.20 516.50 L843.73 435.20 L864.03 398.00 L897.85 382.40 L965.50 349.00 L1033.15 334.20" fill="none" stroke="#151515" stroke-width="2.2" stroke-linejoin="round"/>
<path d="M830.20 516.50 L843.73 492.10 L864.03 467.10 L897.85 443.40 L965.50 414.20 L1033.15 395.70" fill="none" stroke="#151515" stroke-width="2.2" stroke-linejoin="round"/>
<path d="M830.20 516.50 L843.73 511.10 L864.03 505.10 L897.85 494.40 L965.50 483.50 L1033.15 475.90" fill="none" stroke="#151515" stroke-width="2.2" stroke-linejoin="round"/>
<line x1="843.73" y1="427.90" x2="843.73" y2="442.80" stroke="#151515" stroke-width="1.6"/>
<line x1="839.73" y1="427.90" x2="847.73" y2="427.90" stroke="#151515" stroke-width="1.6"/>
<line x1="839.73" y1="442.80" x2="847.73" y2="442.80" stroke="#151515" stroke-width="1.6"/>
<line x1="864.03" y1="389.00" x2="864.03" y2="407.10" stroke="#151515" stroke-width="1.6"/>
<line x1="860.03" y1="389.00" x2="868.03" y2="389.00" stroke="#151515" stroke-width="1.6"/>
<line x1="860.03" y1="407.10" x2="868.03" y2="407.10" stroke="#151515" stroke-width="1.6"/>
<line x1="897.85" y1="372.50" x2="897.85" y2="391.90" stroke="#151515" stroke-width="1.6"/>
<line x1="893.85" y1="372.50" x2="901.85" y2="372.50" stroke="#151515" stroke-width="1.6"/>
<line x1="893.85" y1="391.90" x2="901.85" y2="391.90" stroke="#151515" stroke-width="1.6"/>
<line x1="965.50" y1="343.90" x2="965.50" y2="353.80" stroke="#151515" stroke-width="1.6"/>
<line x1="961.50" y1="343.90" x2="969.50" y2="343.90" stroke="#151515" stroke-width="1.6"/>
<line x1="961.50" y1="353.80" x2="969.50" y2="353.80" stroke="#151515" stroke-width="1.6"/>
<line x1="1033.15" y1="328.50" x2="1033.15" y2="339.50" stroke="#151515" stroke-width="1.6"/>
<line x1="1029.15" y1="328.50" x2="1037.15" y2="328.50" stroke="#151515" stroke-width="1.6"/>
<line x1="1029.15" y1="339.50" x2="1037.15" y2="339.50" stroke="#151515" stroke-width="1.6"/>
<line x1="843.73" y1="487.80" x2="843.73" y2="496.40" stroke="#151515" stroke-width="1.6"/>
<line x1="840.53" y1="487.80" x2="846.93" y2="487.80" stroke="#151515" stroke-width="1.6"/>
<line x1="840.53" y1="496.40" x2="846.93" y2="496.40" stroke="#151515" stroke-width="1.6"/>
<line x1="864.03" y1="463.20" x2="864.03" y2="471.60" stroke="#151515" stroke-width="1.6"/>
<line x1="860.83" y1="463.20" x2="867.23" y2="463.20" stroke="#151515" stroke-width="1.6"/>
<line x1="860.83" y1="471.60" x2="867.23" y2="471.60" stroke="#151515" stroke-width="1.6"/>
<line x1="897.85" y1="437.50" x2="897.85" y2="449.30" stroke="#151515" stroke-width="1.6"/>
<line x1="893.85" y1="437.50" x2="901.85" y2="437.50" stroke="#151515" stroke-width="1.6"/>
<line x1="893.85" y1="449.30" x2="901.85" y2="449.30" stroke="#151515" stroke-width="1.6"/>
<line x1="965.50" y1="404.30" x2="965.50" y2="423.70" stroke="#151515" stroke-width="1.6"/>
<line x1="961.50" y1="404.30" x2="969.50" y2="404.30" stroke="#151515" stroke-width="1.6"/>
<line x1="961.50" y1="423.70" x2="969.50" y2="423.70" stroke="#151515" stroke-width="1.6"/>
<line x1="1033.15" y1="386.20" x2="1033.15" y2="405.20" stroke="#151515" stroke-width="1.6"/>
<line x1="1029.15" y1="386.20" x2="1037.15" y2="386.20" stroke="#151515" stroke-width="1.6"/>
<line x1="1029.15" y1="405.20" x2="1037.15" y2="405.20" stroke="#151515" stroke-width="1.6"/>
<line x1="897.85" y1="491.20" x2="897.85" y2="497.60" stroke="#151515" stroke-width="1.6"/>
<line x1="894.65" y1="491.20" x2="901.05" y2="491.20" stroke="#151515" stroke-width="1.6"/>
<line x1="894.65" y1="497.60" x2="901.05" y2="497.60" stroke="#151515" stroke-width="1.6"/>
<line x1="965.50" y1="480.60" x2="965.50" y2="486.40" stroke="#151515" stroke-width="1.6"/>
<line x1="962.30" y1="480.60" x2="968.70" y2="480.60" stroke="#151515" stroke-width="1.6"/>
<line x1="962.30" y1="486.40" x2="968.70" y2="486.40" stroke="#151515" stroke-width="1.6"/>
<line x1="1033.15" y1="470.50" x2="1033.15" y2="481.40" stroke="#151515" stroke-width="1.6"/>
<line x1="1029.15" y1="470.50" x2="1037.15" y2="470.50" stroke="#151515" stroke-width="1.6"/>
<line x1="1029.15" y1="481.40" x2="1037.15" y2="481.40" stroke="#151515" stroke-width="1.6"/>
<circle cx="830.20" cy="516.50" r="3.6" fill="#151515" stroke="#151515" stroke-width="0.8"/>
<circle cx="843.73" cy="435.20" r="3.6" fill="#151515" stroke="#151515" stroke-width="0.8"/>
<circle cx="864.03" cy="398.00" r="3.6" fill="#151515" stroke="#151515" stroke-width="0.8"/>
<circle cx="897.85" cy="382.40" r="3.6" fill="#151515" stroke="#151515" stroke-width="0.8"/>
<circle cx="965.50" cy="349.00" r="3.6" fill="#151515" stroke="#151515" stroke-width="0.8"/>
<circle cx="1033.15" cy="334.20" r="3.6" fill="#151515" stroke="#151515" stroke-width="0.8"/>
<circle cx="830.20" cy="516.50" r="3.6" fill="#151515" stroke="#151515" stroke-width="0.8"/>
<circle cx="843.73" cy="492.10" r="3.6" fill="#151515" stroke="#151515" stroke-width="0.8"/>
<circle cx="864.03" cy="467.10" r="3.6" fill="#151515" stroke="#151515" stroke-width="0.8"/>
<circle cx="897.85" cy="443.40" r="3.6" fill="#151515" stroke="#151515" stroke-width="0.8"/>
<circle cx="965.50" cy="414.20" r="3.6" fill="#151515" stroke="#151515" stroke-width="0.8"/>
<circle cx="1033.15" cy="395.70" r="3.6" fill="#151515" stroke="#151515" stroke-width="0.8"/>
<circle cx="830.20" cy="516.50" r="3.6" fill="#151515" stroke="#151515" stroke-width="0.8"/>
<circle cx="843.73" cy="511.10" r="3.6" fill="#151515" stroke="#151515" stroke-width="0.8"/>
<circle cx="864.03" cy="505.10" r="3.6" fill="#151515" stroke="#151515" stroke-width="0.8"/>
<circle cx="897.85" cy="494.40" r="3.6" fill="#151515" stroke="#151515" stroke-width="0.8"/>
<circle cx="965.50" cy="483.50" r="3.6" fill="#151515" stroke="#151515" stroke-width="0.8"/>
<circle cx="1033.15" cy="475.90" r="3.6" fill="#151515" stroke="#151515" stroke-width="0.8"/>
<text x="918.00" y="350.00" font-size="17.8" text-anchor="start" fill="#111">pH 4</text>
<text x="918.00" y="416.60" font-size="17.8" text-anchor="start" fill="#111">pH 6</text>
<text x="918.00" y="477.80" font-size="17.8" text-anchor="start" fill="#111">pH 8</text>
<text x="4.00" y="66.60" font-size="36.5" text-anchor="start" fill="#111" style="stroke-width:0">A</text>
<text x="705.50" y="26.80" font-size="36" text-anchor="start" fill="#111">B</text>
<text x="0" y="0" font-size="38.5" text-anchor="start" transform="translate(703.70 298.60) scale(0.94 1)" fill="#111" style="stroke-width:0.15px">C</text>
</svg></body></html>
